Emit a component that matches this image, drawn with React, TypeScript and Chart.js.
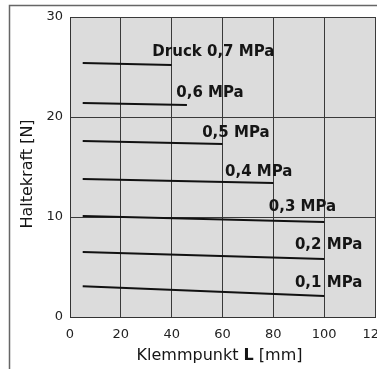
import React, { useEffect, useRef } from "react";
import { Chart, registerables } from "chart.js";

Chart.register(...registerables);

// Series: clamping force [N] vs clamping point L [mm] for each pressure
const seriesLabels = ["0,1 MPa", "0,2 MPa", "0,3 MPa", "0,4 MPa", "0,5 MPa", "0,6 MPa", "Druck 0,7 MPa"];
const startL = [5, 5, 5, 5, 5, 5, 5];
const endL = [100, 100, 100, 80, 60, 46, 40];
const forceStart = [3.07, 6.5, 10.1, 13.8, 17.6, 21.4, 25.4];
const forceEnd = [2.1, 5.8, 9.5, 13.4, 17.3, 21.2, 25.2];
// label anchors (data units)
const labelL = [88.5, 88.5, 78.2, 61, 52, 41.8, 32.4];
const labelF = [2.97, 6.77, 10.6, 14.13, 17.97, 22.03, 26.1];

const xMin = 0, xMax = 120, xStep = 20;
const yMin = 0, yMax = 30, yStep = 10;
const xTitleParts = ["Klemmpunkt ", "L", " [mm]"];
const yTitle = "Haltekraft [N]";

const FONT = "'DejaVu Sans', sans-serif";

const decorPlugin = {
  id: "decor",
  beforeDraw(chart: any) {
    const { ctx, chartArea } = chart;
    ctx.save();
    ctx.fillStyle = "#dcdcdc";
    ctx.fillRect(chartArea.left, chartArea.top, chartArea.right - chartArea.left, chartArea.bottom - chartArea.top);
    // outer frame (top + left)
    ctx.strokeStyle = "#666";
    ctx.lineWidth = 1.5;
    ctx.beginPath();
    ctx.moveTo(9.5, 400);
    ctx.lineTo(9.5, 5.5);
    ctx.lineTo(400, 5.5);
    ctx.stroke();
    ctx.restore();
  },
  afterDraw(chart: any) {
    const { ctx, scales } = chart;
    const xs = scales.x, ys = scales.y;
    ctx.save();
    ctx.fillStyle = "#151515";
    ctx.textBaseline = "alphabetic";
    ctx.textAlign = "left";
    ctx.font = `bold 15px ${FONT}`;
    seriesLabels.forEach((t, i) => {
      ctx.fillText(t, xs.getPixelForValue(labelL[i]), ys.getPixelForValue(labelF[i]));
    });
    // x title with bold L
    const normal = `16px ${FONT}`;
    const bold = `bold 16px ${FONT}`;
    const fonts = [normal, bold, normal];
    let total = 0;
    const widths = xTitleParts.map((p, i) => {
      ctx.font = fonts[i];
      const w = ctx.measureText(p).width;
      total += w;
      return w;
    });
    const cx = (xs.left + xs.right) / 2 - 3;
    let x = cx - total / 2;
    xTitleParts.forEach((p, i) => {
      ctx.font = fonts[i];
      ctx.fillText(p, x, 359.5);
      x += widths[i];
    });
    // y title
    ctx.font = normal;
    ctx.translate(32, 174);
    ctx.rotate(-Math.PI / 2);
    ctx.textAlign = "center";
    ctx.fillText(yTitle, 0, 0);
    ctx.restore();
  },
};

export default function App() {
  const ref = useRef<HTMLCanvasElement | null>(null);
  useEffect(() => {
    if (!ref.current) return;
    const datasets = seriesLabels.map((lab, i) => ({
      label: lab,
      data: [
        { x: startL[i], y: forceStart[i] },
        { x: endL[i], y: forceEnd[i] },
      ],
      borderColor: "#111",
      borderWidth: 2,
      pointRadius: 0,
      fill: false,
      tension: 0,
    }));
    const chart = new Chart(ref.current, {
      type: "line",
      data: { datasets },
      plugins: [decorPlugin],
      options: {
        animation: false,
        responsive: false,
        layout: { padding: { top: 17, right: 25, left: 0, bottom: 0 } },
        plugins: { legend: { display: false }, tooltip: { enabled: false } },
        scales: {
          x: {
            type: "linear",
            min: xMin,
            max: xMax,
            afterFit: (s: any) => { s.height = 52; },
            ticks: { stepSize: xStep, color: "#222", font: { family: FONT, size: 13 }, padding: 10, maxRotation: 0, autoSkip: false },
            grid: { color: "#3a3a3a", lineWidth: 1, drawTicks: false },
            border: { color: "#333", width: 1 },
          },
          y: {
            type: "linear",
            min: yMin,
            max: yMax,
            afterFit: (s: any) => { s.width = 70; },
            ticks: { stepSize: yStep, color: "#222", font: { family: FONT, size: 13 }, padding: 7 },
            grid: { color: "#3a3a3a", lineWidth: 1, drawTicks: false },
            border: { color: "#333", width: 1 },
          },
        },
      },
    } as any);
    return () => chart.destroy();
  }, []);
  return (
    <div style={{ position: "absolute", left: 0, top: 0, width: 377, height: 369, overflow: "hidden", background: "#fff" }}>
      <canvas ref={ref} width={400} height={369} style={{ display: "block" }} />
    </div>
  );
}
